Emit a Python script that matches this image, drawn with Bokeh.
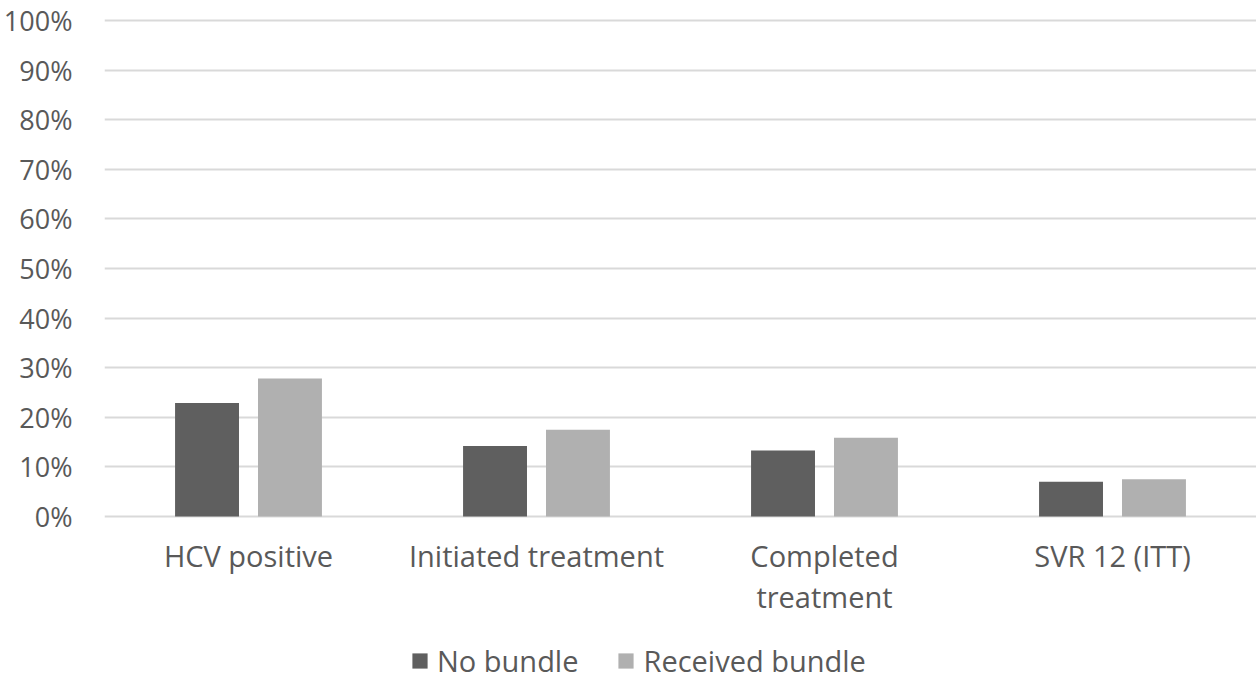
from bokeh.plotting import figure
from bokeh.models import (ColumnDataSource, FactorRange, Range1d, Legend, LegendItem,
                          NumeralTickFormatter, FixedTicker)
from bokeh.core.properties import value
from bokeh.transform import dodge
from bokeh.embed import file_html
from bokeh.resources import INLINE

categories = ["HCV positive", "Initiated treatment", "Completed treatment", "SVR 12 (ITT)"]
category_labels = ["HCV positive", "Initiated treatment", "Completed\ntreatment", "SVR 12 (ITT)"]
no_bundle = [0.229, 0.142, 0.133, 0.070]
received_bundle = [0.278, 0.175, 0.159, 0.075]
series_names = ["No bundle", "Received bundle"]
y_ticks = [0.0, 0.1, 0.2, 0.3, 0.4, 0.5, 0.6, 0.7, 0.8, 0.9, 1.0]

FONT = "Open Sans"
TXT = "#595959"
DARK = "#5f5f5f"
LIGHT = "#b0b0b0"

W = 1256
H = 682
TOP = 16
ZERO = 516
UNIT = 496.0
y_end = 1 + (ZERO - UNIT - TOP) / UNIT
y_start = -(H - ZERO) / UNIT

source = ColumnDataSource(dict(cat=categories, lab=category_labels,
                               nob=no_bundle, rec=received_bundle))

p = figure(x_range=FactorRange(*categories, range_padding=0), y_range=Range1d(y_start, y_end),
           width=W, height=H, output_backend="svg", toolbar_location=None,
           min_border_left=103, min_border_right=0, min_border_top=TOP, min_border_bottom=0)
p.outline_line_color = None
p.xaxis.visible = False

r1 = p.vbar(x=dodge("cat", -0.144, range=p.x_range), top="nob", width=0.222,
            source=source, fill_color=DARK, line_color=None)
r2 = p.vbar(x=dodge("cat", 0.144, range=p.x_range), top="rec", width=0.222,
            source=source, fill_color=LIGHT, line_color=None)

# category labels below the baseline
p.text(x="cat", y=-0.0395, text="lab", source=source, text_align="center",
       text_baseline="top", text_font=value(FONT), text_font_size="29px",
       text_color=TXT, text_line_height=1.05)

p.xgrid.grid_line_color = None
p.ygrid.grid_line_color = "#d9d9d9"
p.ygrid.grid_line_width = 2

p.yaxis.ticker = FixedTicker(ticks=y_ticks)
p.yaxis.formatter = NumeralTickFormatter(format="0%")
ax = p.yaxis[0]
ax.axis_line_color = None
ax.major_tick_line_color = None
ax.minor_tick_line_color = None
ax.major_label_text_font = FONT
ax.major_label_text_font_size = "27px"
ax.major_label_text_color = TXT
ax.major_label_standoff = 26

legend = Legend(items=[LegendItem(label=series_names[0], renderers=[r1]),
                       LegendItem(label=series_names[1], renderers=[r2])],
                orientation="horizontal", location=(306, 2),
                glyph_width=19, glyph_height=19, label_standoff=8, spacing=38,
                label_text_font=FONT, label_text_font_size="29px", label_text_color=TXT,
                border_line_color=None, background_fill_alpha=0, padding=0, margin=0)
p.add_layout(legend, "center")

open("out.html", "w").write(file_html(p, INLINE))
